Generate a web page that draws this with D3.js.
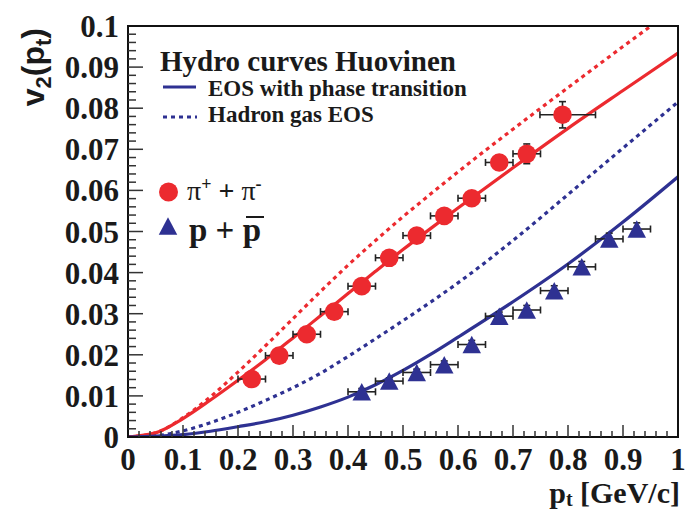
<!DOCTYPE html>
<html><head><meta charset="utf-8">
<script src="https://cdn.jsdelivr.net/npm/d3@7"></script>
<style>body{margin:0;background:#fff}svg{display:block}</style>
</head><body>
<svg id="c" width="685" height="511"></svg>
<script>
// ---- data ----
const curveX = [0, 0.05, 0.1, 0.15, 0.2, 0.25, 0.3, 0.35, 0.4, 0.45, 0.5, 0.55, 0.6, 0.7, 0.8, 0.9, 1.0];
const pionEOSPT   = [0, 0.0010, 0.0045, 0.0090, 0.0138, 0.0188, 0.0241, 0.0295, 0.0349, 0.0403, 0.0456, 0.0507, 0.0557, 0.0655, 0.0751, 0.0843, 0.0934];
const pionHadron  = [0, 0.0010, 0.0047, 0.0098, 0.0158, 0.0222, 0.0288, 0.0354, 0.0418, 0.0478, 0.0536, 0.0591, 0.0645, 0.0749, 0.0850, 0.0950, 0.1048];
const protEOSPT   = [0, 0.0002, 0.0006, 0.0014, 0.0025, 0.0037, 0.0053, 0.0073, 0.0097, 0.0127, 0.0162, 0.0201, 0.0243, 0.0329, 0.0421, 0.0523, 0.0633];
const protHadron  = [0, 0.0003, 0.0015, 0.0035, 0.0060, 0.0089, 0.0120, 0.0155, 0.0196, 0.0239, 0.0283, 0.0328, 0.0375, 0.0478, 0.0590, 0.0703, 0.0815];

const pionPt   = [0.225, 0.275, 0.325, 0.375, 0.425, 0.475, 0.525, 0.575, 0.625, 0.675, 0.725, 0.79];
const pionV2   = [0.0141, 0.0198, 0.0250, 0.0305, 0.0367, 0.0436, 0.0490, 0.0538, 0.0581, 0.0668, 0.0689, 0.0784];
const pionXErrLo = [0.025, 0.025, 0.025, 0.025, 0.025, 0.025, 0.025, 0.025, 0.025, 0.025, 0.025, 0.041];
const pionXErrHi = [0.025, 0.025, 0.025, 0.025, 0.025, 0.025, 0.025, 0.025, 0.025, 0.025, 0.025, 0.060];
const pionYErr = [0.0008, 0.0008, 0.0008, 0.0009, 0.0010, 0.0011, 0.0012, 0.0014, 0.0016, 0.0018, 0.0024, 0.0032];

const protPt   = [0.425, 0.475, 0.525, 0.575, 0.625, 0.675, 0.725, 0.775, 0.825, 0.875, 0.925];
const protV2   = [0.0110, 0.0136, 0.0157, 0.0176, 0.0225, 0.0294, 0.0309, 0.0356, 0.0414, 0.0482, 0.0506];
const protXErr = [0.025, 0.025, 0.025, 0.025, 0.025, 0.025, 0.025, 0.025, 0.025, 0.025, 0.025];
const protYErr = [0.0008, 0.0008, 0.0008, 0.0009, 0.0010, 0.0010, 0.0011, 0.0012, 0.0013, 0.0014, 0.0015];

const xTickLabels = ["0", "0.1", "0.2", "0.3", "0.4", "0.5", "0.6", "0.7", "0.8", "0.9", "1"];
const yTickLabels = ["0", "0.01", "0.02", "0.03", "0.04", "0.05", "0.06", "0.07", "0.08", "0.09", "0.1"];

// ---- styles ----
const RED = "#ec2a2f", BLUE = "#2e3192";
const serif = "'Liberation Serif','Times New Roman',serif";
const sans = "'Liberation Sans',Arial,sans-serif";

const svg = d3.select("#c");
const L = 128, R = 678, T = 26, B = 437;
const x = d3.scaleLinear().domain([0, 1]).range([L, R]);
const y = d3.scaleLinear().domain([0, 0.1]).range([B, T]);

svg.append("clipPath").attr("id", "clip").append("rect")
  .attr("x", L).attr("y", T).attr("width", R - L).attr("height", B - T);

// curves
const line = d3.line().x(d => x(d[0])).y(d => y(d[1])).curve(d3.curveMonotoneX);
const curves = [
  {v: pionHadron, c: RED, dash: "4,4"},
  {v: protHadron, c: BLUE, dash: "4,4"},
  {v: pionEOSPT, c: RED, dash: null},
  {v: protEOSPT, c: BLUE, dash: null}
];
const cg = svg.append("g").attr("clip-path", "url(#clip)");
curves.forEach(cv => {
  cg.append("path").datum(curveX.map((px, i) => [px, cv.v[i]]))
    .attr("d", line).attr("fill", "none").attr("stroke", cv.c)
    .attr("stroke-width", 3.2).attr("stroke-dasharray", cv.dash);
});

// error bars
const eg = svg.append("g").attr("stroke", "#222").attr("stroke-width", 1.6).attr("fill", "none");
function errBars(px, py, xlo, xhi, ye) {
  px.forEach((p, i) => {
    const cx = x(p), cy = y(py[i]);
    const x1 = x(p - xlo[i]), x2 = x(p + xhi[i]);
    eg.append("line").attr("x1", x1).attr("x2", x2).attr("y1", cy).attr("y2", cy);
    eg.append("line").attr("x1", x1).attr("x2", x1).attr("y1", cy - 3.5).attr("y2", cy + 3.5);
    eg.append("line").attr("x1", x2).attr("x2", x2).attr("y1", cy - 3.5).attr("y2", cy + 3.5);
    const y1 = y(py[i] + ye[i]), y2 = y(py[i] - ye[i]);
    eg.append("line").attr("x1", cx).attr("x2", cx).attr("y1", y1).attr("y2", y2);
    eg.append("line").attr("x1", cx - 3.5).attr("x2", cx + 3.5).attr("y1", y1).attr("y2", y1);
    eg.append("line").attr("x1", cx - 3.5).attr("x2", cx + 3.5).attr("y1", y2).attr("y2", y2);
  });
}
errBars(pionPt, pionV2, pionXErrLo, pionXErrHi, pionYErr);
errBars(protPt, protV2, protXErr, protXErr, protYErr);

// markers
const tri = (cx, cy, w, h) => `M${cx - w / 2},${cy + h / 2}L${cx + w / 2},${cy + h / 2}L${cx},${cy - h / 2}Z`;
svg.append("g").selectAll("circle").data(pionPt).join("circle")
  .attr("cx", d => x(d)).attr("cy", (d, i) => y(pionV2[i])).attr("r", 9.3).attr("fill", RED);
svg.append("g").selectAll("path").data(protPt).join("path")
  .attr("d", (d, i) => tri(x(d), y(protV2[i]), 18.5, 17.5)).attr("fill", BLUE);

// frame
svg.append("rect").attr("x", L).attr("y", T).attr("width", R - L).attr("height", B - T)
  .attr("fill", "none").attr("stroke", "#111").attr("stroke-width", 2);

// ticks (inside)
const tg = svg.append("g").attr("stroke", "#333").attr("stroke-width", 1.5);
d3.range(0, 51).forEach(i => {
  const v = i * 0.02, major = i % 5 === 0;
  if (i === 0 || i === 50) return;
  tg.append("line").attr("x1", x(v)).attr("x2", x(v)).attr("y1", B).attr("y2", B - (major ? 12 : 6));
});
d3.range(0, 51).forEach(i => {
  const v = i * 0.002, major = i % 5 === 0;
  if (i === 0 || i === 50) return;
  tg.append("line").attr("x1", L).attr("x2", L + (major ? 15 : 8)).attr("y1", y(v)).attr("y2", y(v));
});

// tick labels
svg.append("g").selectAll("text").data(xTickLabels).join("text")
  .attr("x", (d, i) => x(i / 10)).attr("y", 470)
  .attr("text-anchor", "middle").attr("font-family", serif).attr("font-weight", "bold")
  .attr("font-size", 31).attr("fill", "#1a1a1a").text(d => d);
svg.append("g").selectAll("text").data(yTickLabels).join("text")
  .attr("x", 119).attr("y", (d, i) => y(i / 100) + 11)
  .attr("text-anchor", "end").attr("font-family", serif).attr("font-weight", "bold")
  .attr("font-size", 31).attr("fill", "#1a1a1a").text(d => d);

// axis titles
const xt = svg.append("text").attr("x", 680).attr("y", 503).attr("text-anchor", "end")
  .attr("font-family", serif).attr("font-weight", "bold").attr("font-size", 30).attr("fill", "#1a1a1a");
xt.append("tspan").text("p");
xt.append("tspan").attr("font-size", 20).attr("dy", 3).text("t");
xt.append("tspan").attr("dy", -3).text(" [GeV/c]");

const yt = svg.append("text").attr("transform", "translate(44,28) rotate(-90)").attr("text-anchor", "end")
  .attr("font-family", sans).attr("font-weight", "bold").attr("font-size", 32).attr("fill", "#1a1a1a");
yt.append("tspan").text("v");
yt.append("tspan").attr("font-size", 22).attr("dy", 7).text("2");
yt.append("tspan").attr("dy", -7).text("(p");
yt.append("tspan").attr("font-size", 22).attr("dy", 7).text("t");
yt.append("tspan").attr("dy", -7).text(")");

// legend
svg.append("text").attr("x", 160).attr("y", 71).attr("font-family", serif).attr("font-weight", "bold")
  .attr("font-size", 29).attr("fill", "#1a1a1a").text("Hydro curves Huovinen");
svg.append("line").attr("x1", 163).attr("x2", 196).attr("y1", 87).attr("y2", 87)
  .attr("stroke", BLUE).attr("stroke-width", 3.2);
svg.append("text").attr("x", 208).attr("y", 96).attr("font-family", serif).attr("font-weight", "bold")
  .attr("font-size", 23).attr("fill", "#1a1a1a").text("EOS with phase transition");
svg.append("line").attr("x1", 163).attr("x2", 197).attr("y1", 117).attr("y2", 117)
  .attr("stroke", BLUE).attr("stroke-width", 3.2).attr("stroke-dasharray", "4,4");
svg.append("text").attr("x", 208).attr("y", 122).attr("font-family", serif).attr("font-weight", "bold")
  .attr("font-size", 23).attr("fill", "#1a1a1a").text("Hadron gas EOS");

svg.append("circle").attr("cx", 168.5).attr("cy", 192).attr("r", 9.5).attr("fill", RED);
const pl = svg.append("text").attr("x", 187).attr("y", 200).attr("font-family", serif)
  .attr("font-size", 28).attr("fill", "#1a1a1a");
pl.append("tspan").text("π");
pl.append("tspan").attr("font-size", 18).attr("font-weight", "bold").attr("dy", -10).text("+");
pl.append("tspan").attr("dy", 10).attr("font-weight", "bold").text(" + ");
pl.append("tspan").text("π");
pl.append("tspan").attr("font-size", 18).attr("font-weight", "bold").attr("dy", -10).text("-");

svg.append("path").attr("d", tri(168, 226, 18.5, 17.5)).attr("fill", BLUE);
const plab = svg.append("text").attr("x", 189).attr("y", 241).attr("font-family", serif)
  .attr("font-weight", "bold").attr("font-size", 33).attr("fill", "#1a1a1a");
plab.append("tspan").text("p + ");
plab.append("tspan").text("p");
// overline for anti-proton
svg.append("line").attr("x1", 246).attr("x2", 264).attr("y1", 217).attr("y2", 217)
  .attr("stroke", "#1a1a1a").attr("stroke-width", 2);
</script>
</body></html>
